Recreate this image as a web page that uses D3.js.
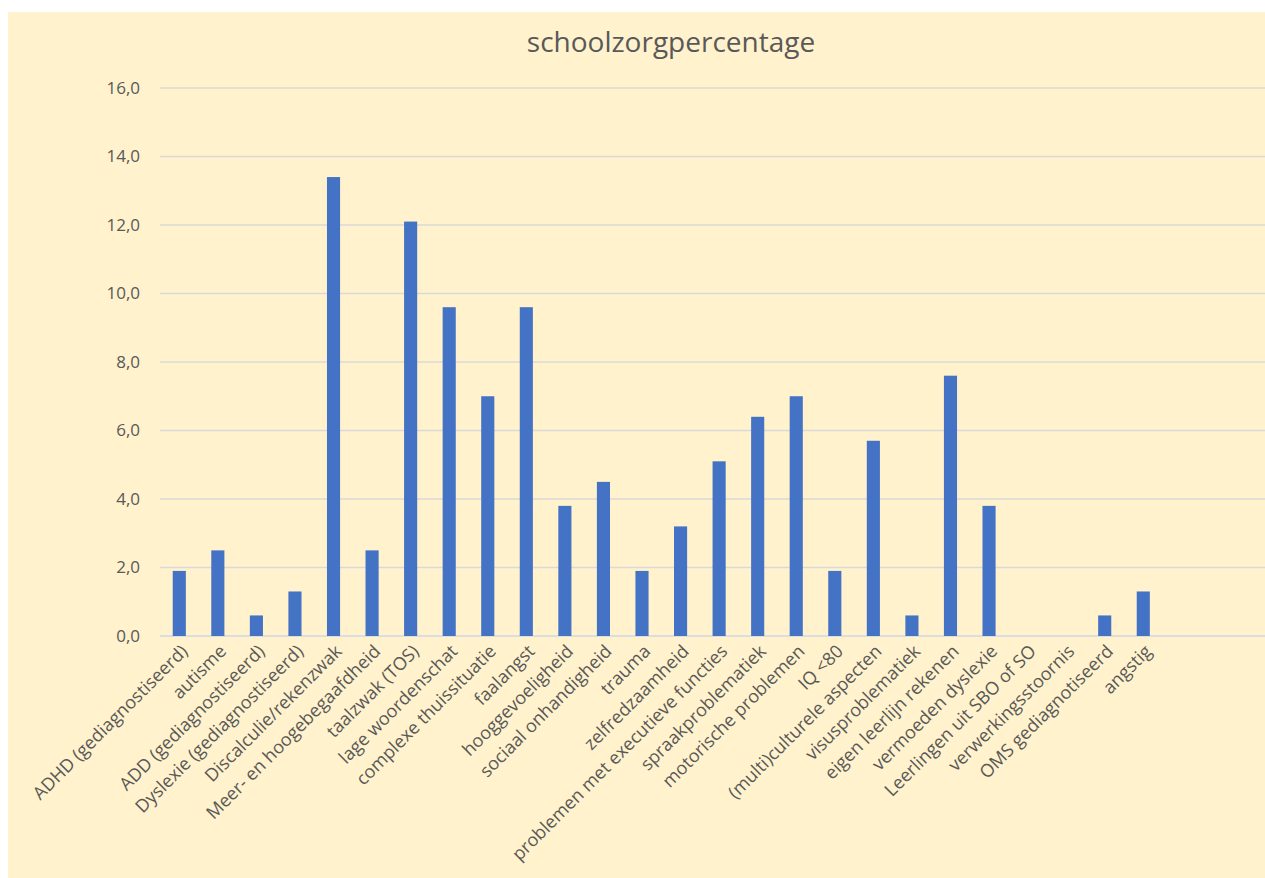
<!DOCTYPE html>
<html>
<head>
<meta charset="utf-8">
<script src="https://cdn.jsdelivr.net/npm/d3@7"></script>
<style>
  body { margin: 0; background: #ffffff; }
  text { font-family: "Open Sans", Lato, sans-serif; fill: #595959; }
</style>
</head>
<body>
<svg id="plot" width="1265" height="878"></svg>
<script>
// categories and percentages
let categories = [
  "ADHD (gediagnostiseerd)", "autisme", "ADD (gediagnostiseerd)",
  "Dyslexie (gediagnostiseerd)", "Discalculie/rekenzwak",
  "Meer- en hoogebegaafdheid", "taalzwak (TOS)", "lage woordenschat",
  "complexe thuissituatie", "faalangst", "hooggevoeligheid",
  "sociaal onhandigheid", "trauma", "zelfredzaamheid",
  "problemen met executieve functies", "spraakproblematiek",
  "motorische problemen", "IQ <80", "(multi)culturele aspecten",
  "visusproblematiek", "eigen leerlijn rekenen", "vermoeden dyslexie",
  "Leerlingen uit SBO of SO", "verwerkingsstoornis",
  "OMS gediagnotiseerd", "angstig", "", "", ""
]
let values = [1.9, 2.5, 0.6, 1.3, 13.4, 2.5, 12.1, 9.6, 7.0, 9.6, 3.8, 4.5,
              1.9, 3.2, 5.1, 6.4, 7.0, 1.9, 5.7, 0.6, 7.6, 3.8, 0, 0, 0.6, 1.3,
              null, null, null]
let yTicks = [0, 2, 4, 6, 8, 10, 12, 14, 16]

let svg = d3.select("#plot")

// chart area background
svg.append("rect")
  .attr("x", 8).attr("y", 12)
  .attr("width", 1257).attr("height", 866)
  .attr("fill", "#FFF2CC")

// scales
let xScale = d3.scaleBand()
  .domain(d3.range(categories.length))
  .range([160, 160 + 38.56 * categories.length])
  .paddingInner(0.66)
  .paddingOuter(0.33)

let yScale = d3.scaleLinear()
  .domain([0, 16])
  .range([636, 88])

// gridlines
svg.append("g")
  .selectAll("line")
  .data(yTicks)
  .enter()
  .append("line")
  .attr("x1", 160)
  .attr("x2", 1265)
  .attr("y1", d => yScale(d))
  .attr("y2", d => yScale(d))
  .attr("stroke", d => d === 0 ? "#cfd6e4" : "#d9d9d9")
  .attr("stroke-width", 1.3)

// y axis labels
let yAxis = d3.axisLeft(yScale)
  .tickValues(yTicks)
  .tickSize(0)
  .tickPadding(0)
  .tickFormat(d => d3.format(".1f")(d).replace(".", ","))

svg.append("g")
  .attr("transform", "translate(140,0)")
  .call(yAxis)
  .call(g => g.select(".domain").remove())
  .selectAll("text")
  .attr("font-size", 17)
  .attr("font-family", null)

// bars
svg.append("g")
  .selectAll("rect")
  .data(values.map((v, i) => [i, v]).filter(d => d[1] !== null))
  .enter()
  .append("rect")
  .attr("x", d => xScale(d[0]))
  .attr("width", xScale.bandwidth())
  .attr("y", d => yScale(d[1]))
  .attr("height", d => yScale(0) - yScale(d[1]))
  .attr("fill", "#4472C4")

// category labels, rotated
svg.append("g")
  .selectAll("text")
  .data(categories)
  .enter()
  .append("text")
  .attr("transform", (d, i) =>
    "translate(" + (xScale(i) + xScale.bandwidth() / 2 + 5) + ",648) rotate(-45)")
  .attr("text-anchor", "end")
  .attr("dy", "0.35em")
  .attr("font-size", 18)
  .text(d => d)

// title
svg.append("text")
  .attr("x", 671)
  .attr("y", 52)
  .attr("text-anchor", "middle")
  .attr("font-size", 28)
  .text("schoolzorgpercentage")
</script>
</body>
</html>
